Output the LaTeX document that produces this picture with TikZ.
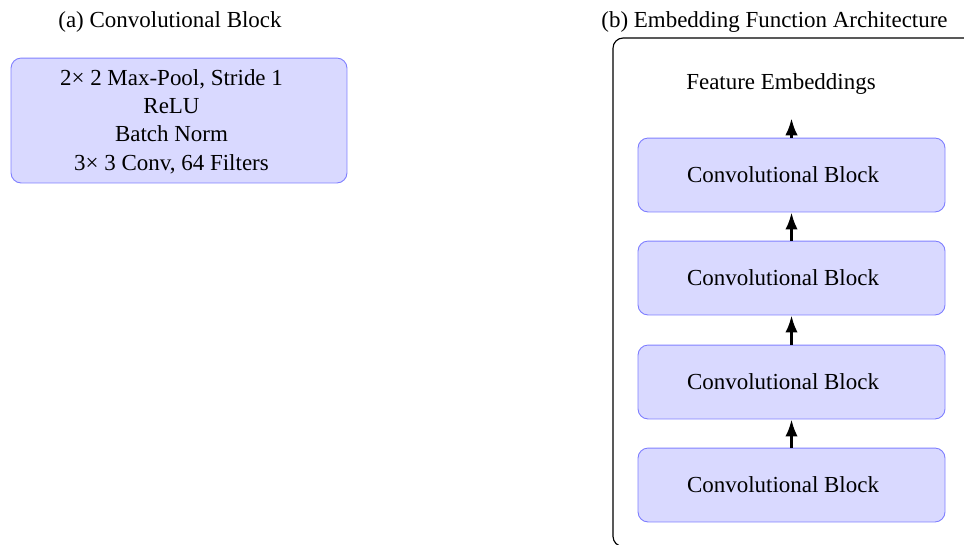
\documentclass[tikz,border=0pt]{standalone}
\usepackage{fontspec}
\setmainfont{Liberation Serif}
\usetikzlibrary{arrows.meta}
\begin{document}
\begin{tikzpicture}[x=0.4355pt,y=-0.4355pt,
  blk/.style={draw=blue!50, fill=blue!15, rounded corners=4.4pt, line width=0.4pt, inner sep=0pt},
  cb/.style={blk, minimum width=133.7pt, minimum height=32.2pt},
  lbl/.style={inner sep=0pt, font=\fontsize{10}{12.3}\selectfont, align=center},
  arr/.style={-{Latex[length=7.4pt,width=5.4pt]}, line width=1.2pt},
  frame/.style={draw=black, rounded corners=4.4pt, line width=0.5pt}]
\useasboundingbox (0,0) rectangle (964,544);
% (a)
\node[lbl, anchor=base] (ta) at (170,27) {(a) Convolutional Block};
\node[blk, minimum width=146.3pt, minimum height=54.4pt] (cbox) at (179,120.5) {};
\node[lbl] (ctext) at (171.5,121.5) {2× 2 Max-Pool, Stride 1\\ReLU\\Batch Norm\\3× 3 Conv, 64 Filters};
% (b)
\node[lbl, anchor=base] (tb) at (774.5,27) {(b) Embedding Function Architecture};
\draw[frame] (613,38) rectangle (975,546.5);
\node[cb] (b1) at (791.5,175) {};
\node[cb] (b2) at (791.5,278) {};
\node[cb] (b3) at (791.5,382) {};
\node[cb] (b4) at (791.5,485) {};
\foreach \b/\y in {b1/175,b2/278,b3/382,b4/485}
  \node[lbl] (\b t) at (783,\y) {Convolutional Block};
\node[lbl, anchor=base] (fe) at (781,89) {Feature Embeddings};
\draw[arr] (b4.north) -- (b3.south);
\draw[arr] (b3.north) -- (b2.south);
\draw[arr] (b2.north) -- (b1.south);
\draw[arr, shorten >=10.4pt] (b1.north) -- (b1.north |- fe.south);
\end{tikzpicture}
\end{document}
